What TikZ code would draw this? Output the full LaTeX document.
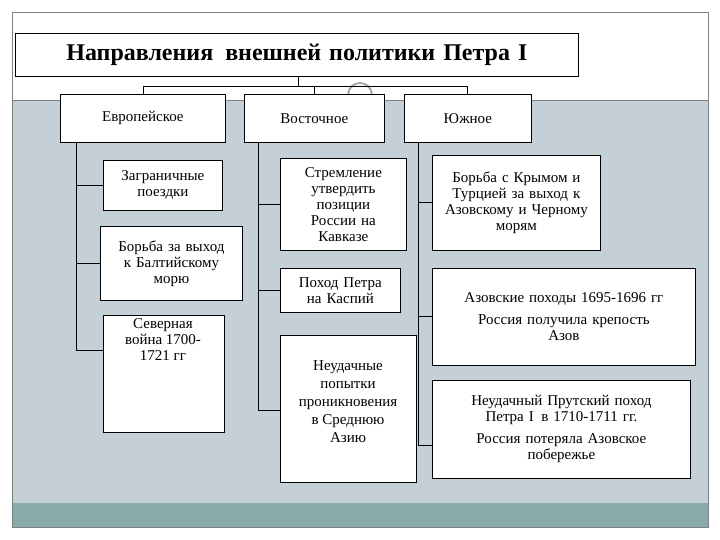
\documentclass[tikz,border=0pt]{standalone}
\usepackage{fontspec}
\setmainfont{Liberation Serif}
\begin{document}
\begin{tikzpicture}[x=1pt,y=-1pt,
 bx/.style={draw=black,fill=white,line width=0.8pt,align=center,inner sep=1pt,font=\fontsize{15}{16}\selectfont},
 ln/.style={draw=black,line width=0.8pt}]
\useasboundingbox (0,0) rectangle (720,540);
\fill[white] (0,0) rectangle (720,540);
\fill[white] (12,12) rectangle (708,100);
\fill[fill={rgb,255:red,197;green,208;blue,214}] (12,100) rectangle (708,503);
\fill[fill={rgb,255:red,138;green,171;blue,171}] (12,503) rectangle (708,527);
\draw[gray,line width=0.6pt] (12,12) rectangle (708,527);
\draw[gray,line width=0.6pt] (12,100) -- (708,100);
\draw[gray!70,line width=2pt] (360,95) circle (12);
% title
\node[bx,font=\fontsize{24}{26}\bfseries,minimum width=563,minimum height=43,anchor=north west,text width=555] (t) at (15,33) {Направления\, внешней политики Петра I};
% level 2
\node[bx,anchor=north west,minimum width=165,minimum height=48] (e) at (60,94) {Европейское};
\node[bx,anchor=north west,minimum width=140,minimum height=48] (v) at (244,94) {Восточное};
\node[bx,anchor=north west,minimum width=127,minimum height=48] (s) at (404,94) {Южное};
\coordinate (tb) at (298,86);
\draw[ln] (t.south -| tb) -- (tb);
\draw[ln] (143,86) -- (467,86);
\draw[ln] (143,86) -- (143,94);
\draw[ln] (314,86) -- (314,94);
\draw[ln] (467,86) -- (467,94);
% left
\node[bx,anchor=north west,minimum width=119,minimum height=50,text width=115] (e1) at (103,160) {Заграничные\\поездки};
\node[bx,anchor=north west,minimum width=142,minimum height=74,text width=138] (e2) at (100,226) {Борьба за выход\\к Балтийскому\\морю};
\node[bx,anchor=north west,minimum width=121,minimum height=117,text width=117] (e3) at (103,315) {};
\node[align=center,font=\fontsize{15}{16}\selectfont,anchor=north,inner sep=0pt] (e3t) at (163,318) {Северная\\война 1700-\\1721 гг};
\draw[ln] (76,142) -- (76,350);
\draw[ln] (76,185) -- (103,185);
\draw[ln] (76,263) -- (100,263);
\draw[ln] (76,350) -- (103,350);
% middle
\node[bx,anchor=north west,minimum width=126,minimum height=92,text width=122] (v1) at (280,158) {Стремление\\утвердить\\позиции\\России на\\Кавказе};
\node[bx,anchor=north west,minimum width=120,minimum height=44,text width=116] (v2) at (280,268) {Поход Петра\\на Каспий};
\node[bx,anchor=north west,minimum width=136,minimum height=147,text width=132] (v3) at (280,335) {};
\node[align=center,font=\fontsize{15}{18}\selectfont,anchor=north,inner sep=0pt] (v3t) at (348,360) {Неудачные\\попытки\\проникновения\\в Среднюю\\Азию};
\draw[ln] (258,142) -- (258,410);
\draw[ln] (258,204) -- (280,204);
\draw[ln] (258,290) -- (280,290);
\draw[ln] (258,410) -- (280,410);
% right
\node[bx,anchor=north west,minimum width=168,minimum height=95,text width=164] (s1) at (432,155) {Борьба с Крымом и\\Турцией за выход к\\Азовскому и Черному\\морям};
\node[bx,anchor=north west,minimum width=263,minimum height=97,text width=259] (s2) at (432,268) {Азовские походы 1695-1696 гг\\[6pt]Россия получила крепость\\Азов\\[10pt]};
\node[bx,anchor=north west,minimum width=258,minimum height=98,text width=254] (s3) at (432,380) {Неудачный Прутский поход\\Петра I\, в 1710-1711 гг.\\[6pt]Россия потеряла Азовское\\побережье};
\draw[ln] (418,142) -- (418,445);
\draw[ln] (418,202) -- (432,202);
\draw[ln] (418,316) -- (432,316);
\draw[ln] (418,445) -- (432,445);
\end{tikzpicture}
\end{document}
